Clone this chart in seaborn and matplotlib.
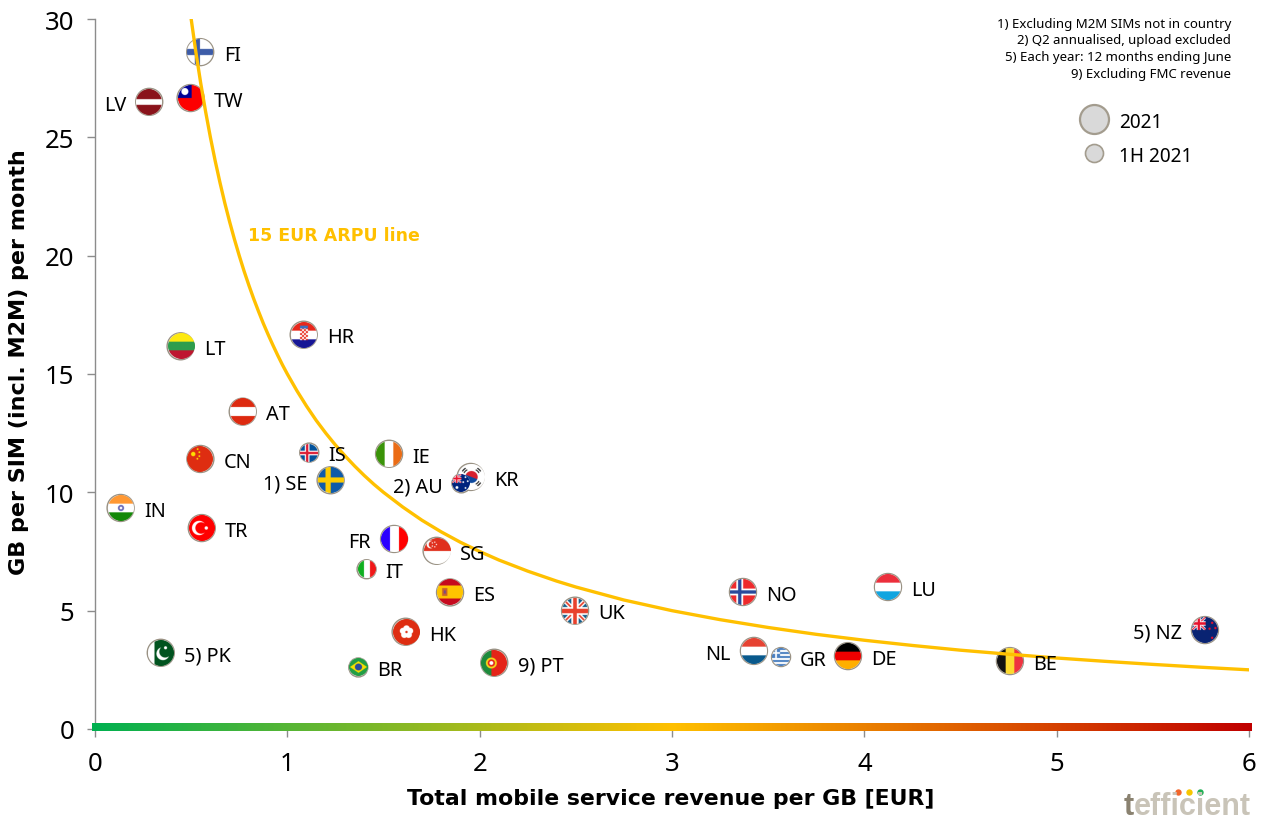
import numpy as np
import pandas as pd
import matplotlib
matplotlib.use("Agg")
import matplotlib.pyplot as plt
import seaborn as sns
from matplotlib.colors import LinearSegmentedColormap, to_rgb
from matplotlib.lines import Line2D

# ---------- data ----------
codes = ["FI","TW","LV","LT","HR","AT","CN","IS","IE","SE","KR","AU","IN","TR","FR","SG","IT","ES","UK","HK","PK","BR","PT","NO","LU","NZ","NL","GR","DE","BE"]
rev_per_gb = [0.547,0.497,0.282,0.445,1.085,0.768,0.548,1.114,1.529,1.225,1.953,1.905,0.133,0.555,1.555,1.776,1.412,1.846,2.496,1.615,0.342,1.369,2.076,3.369,4.123,5.771,3.426,3.567,3.915,4.757]
gb_per_sim = [28.6,26.66,26.5,16.17,16.66,13.41,11.41,11.68,11.63,10.51,10.65,10.38,9.34,8.49,8.03,7.53,6.75,5.77,5.0,4.11,3.22,2.6,2.8,5.79,6.0,4.18,3.3,3.04,3.08,2.87]
half_year = ["IS","IT","AU","BR","GR"]
left_labels = ["LV","SE","AU","FR","NZ","NL"]
prefixes = {"SE":"1) ","AU":"2) ","NZ":"5) ","PK":"5) ","PT":"9) "}
arpu_x = [0.5,0.525,0.55,0.575,0.6,0.625,0.65,0.675,0.7,0.725,0.75,0.775,0.8,0.825,0.85,0.875,0.9,0.925,0.95,0.975,1.0,1.05,1.1,1.15,1.2,1.25,1.3,1.35,1.4,1.45,1.5,1.6,1.7,1.8,1.9,2,2.1,2.25,2.4,2.5,2.75,3,3.25,3.5,3.75,4,4.25,4.5,4.75,5,5.25,5.5,5.75,6]
arpu_y = [30,28.57,27.27,26.09,25,24,23.08,22.22,21.43,20.69,20,19.35,18.75,18.18,17.65,17.14,16.67,16.22,15.79,15.38,15,14.29,13.64,13.04,12.5,12,11.54,11.11,10.71,10.34,10,9.38,8.82,8.33,7.89,7.5,7.14,6.67,6.25,6,5.45,5,4.62,4.29,4,3.75,3.53,3.33,3.16,3,2.86,2.73,2.61,2.5]
x_ticks = [0,1,2,3,4,5,6]
y_ticks = [0,5,10,15,20,25,30]
footnotes = ["1) Excluding M2M SIMs not in country","2) Q2 annualised, upload excluded","5) Each year: 12 months ending June","9) Excluding FMC revenue"]
legend_labels = ["2021","1H 2021"]

df = pd.DataFrame({"code":codes,"rev":rev_per_gb,"gb":gb_per_sim})
df["period"] = ["1H 2021" if c in half_year else "2021" for c in codes]

# ---------- flags ----------
def hexrgb(c): return np.array(to_rgb(c))

def union(F, x0, x1, y0, y1):
    X, Y = F.X, F.Y
    u = (X-x0)/(x1-x0)*2-1; v = (Y-y0)/(y1-y0)*2-1
    box = (u>=-1)&(u<=1)&(v>=-1)&(v<=1)
    F.fill(box,"#00247D")
    d = np.abs(np.abs(u)-np.abs(v))
    F.fill(box&(d<0.28),"#FFFFFF"); F.fill(box&(d<0.11),"#E8112D")
    F.fill(box&((np.abs(u)<0.3)|(np.abs(v)<0.34)),"#FFFFFF")
    F.fill(box&((np.abs(u)<0.17)|(np.abs(v)<0.2)),"#E8112D")

class Flag:
    def __init__(s, X, Y):
        s.X, s.Y = X, Y
        s.img = np.ones(X.shape+(3,))
    def fill(s, m, c): s.img[m] = hexrgb(c)
    def all(s, c): s.img[:] = hexrgb(c)
    def hs(s, cols, cuts=None):
        n = len(cols); cuts = cuts or list(np.linspace(1,-1,n+1))
        for i,c in enumerate(cols): s.fill((s.Y<=cuts[i])&(s.Y>=cuts[i+1]),c)
    def vs(s, cols, cuts=None):
        n = len(cols); cuts = cuts or list(np.linspace(-1,1,n+1))
        for i,c in enumerate(cols): s.fill((s.X>=cuts[i])&(s.X<=cuts[i+1]),c)
    def disc(s, x, y, r): return (s.X-x)**2+(s.Y-y)**2 < r*r
    def cross(s, cx, w, c):
        s.fill((np.abs(s.X-cx)<w)|(np.abs(s.Y)<w),c)

def paint(code, F):
    X, Y = F.X, F.Y
    if code=="FI":
        F.all("#FFFFFF"); F.fill(np.abs(Y)<0.24,"#3D5DA8"); F.fill(np.abs(X+0.2)<0.2,"#3D5DA8")
    elif code=="TW":
        F.all("#FE0000"); F.fill((X<0.05)&(Y>0.0),"#000095"); F.fill(F.disc(-0.47,0.5,0.27),"#FFFFFF")
    elif code=="LV":
        F.all("#8B141B"); F.fill(np.abs(Y)<0.22,"#FFFFFF")
    elif code=="LT":
        F.hs(["#FDE910","#2E9E4E","#BE1730"])
    elif code=="HR":
        F.hs(["#E8281C","#FFFFFF","#171796"])
        sh = (np.abs(X)<0.3)&(Y<0.5)&(Y>-0.4)
        F.fill(sh,"#FFFFFF")
        F.fill(sh&((np.floor(X/0.15)+np.floor(Y/0.15))%2==0),"#E8281C")
        F.fill((np.abs(X)<0.3)&(Y>=0.5)&(Y<0.72),"#3D6FC0")
    elif code=="AT":
        F.hs(["#DD2A10","#FFFFFF","#DD2A10"])
    elif code=="CN":
        F.all("#DE2E12")
        F.fill(F.disc(-0.52,0.38,0.17),"#FFDE00")
        for p in [(-0.18,0.76),(-0.05,0.52),(-0.05,0.22),(-0.2,0.02)]:
            F.fill(F.disc(p[0],p[1],0.07),"#FFDE00")
    elif code=="IS":
        F.all("#02529C"); F.cross(-0.2,0.26,"#FFFFFF"); F.cross(-0.2,0.13,"#DC1E35")
    elif code=="IE":
        F.vs(["#3A9408","#FFFFFF","#EB6C15"])
    elif code=="SE":
        F.all("#0E5BA8"); F.cross(-0.22,0.2,"#FECC00")
    elif code=="KR":
        F.all("#FFFFFF")
        F.fill(F.disc(0,0,0.46)&(Y+0.4*X>0),"#D8202E"); F.fill(F.disc(0,0,0.46)&(Y+0.4*X<=0),"#0F4A9E")
        d = np.abs(np.abs(X)-np.abs(Y))
        F.fill((np.hypot(X,Y)>0.6)&(np.hypot(X,Y)<0.85)&(d<0.25)&(np.abs(np.hypot(X,Y)-0.72)>0.04),"#1A1A1A")
    elif code=="AU":
        F.all("#00247D"); union(F,-1,0.05,0,1)
        F.fill(F.disc(-0.45,-0.5,0.16),"#FFFFFF")
        for p in [(0.5,0.65),(0.25,0.1),(0.75,0.2),(0.5,-0.55)]:
            F.fill(F.disc(p[0],p[1],0.1),"#FFFFFF")
    elif code=="IN":
        F.hs(["#FF9933","#FFFFFF","#138808"])
        F.fill(F.disc(0,0,0.24)&(~F.disc(0,0,0.1)),"#6A6AB8")
    elif code=="TR":
        F.all("#FF0000")
        F.fill(F.disc(-0.22,0,0.55)&(~F.disc(-0.07,0,0.44)),"#FFFFFF")
        F.fill(F.disc(0.33,0,0.13),"#FFFFFF")
    elif code=="FR":
        F.vs(["#2B00FF","#FFFFFF","#FF0000"])
    elif code=="SG":
        F.hs(["#E0301E","#FFFFFF"])
        F.fill(F.disc(-0.5,0.5,0.3)&(~F.disc(-0.38,0.5,0.27)),"#FFFFFF")
        for p in [(-0.2,0.68),(-0.08,0.5),(-0.2,0.32),(-0.38,0.38),(-0.38,0.62)]:
            F.fill(F.disc(p[0],p[1],0.05),"#FFFFFF")
    elif code=="IT":
        F.vs(["#10B020","#FFFFFF","#F01818"])
    elif code=="ES":
        F.hs(["#C60B1E","#FFC400","#C60B1E"],[1,0.5,-0.5,-1])
        F.fill((np.abs(X+0.4)<0.2)&(np.abs(Y)<0.3),"#C8632A")
        F.fill((np.abs(X+0.4)<0.08)&(np.abs(Y)<0.12),"#7A4A8A")
    elif code=="UK":
        F.all("#155F8C")
        d = np.abs(np.abs(X)-np.abs(Y))
        F.fill(d<0.24,"#FFFFFF"); F.fill(d<0.09,"#E8412D")
        F.fill((np.abs(X)<0.28)|(np.abs(Y)<0.3),"#FFFFFF")
        F.fill((np.abs(X)<0.14)|(np.abs(Y)<0.17),"#E8412D")
    elif code=="HK":
        F.all("#DE2E12")
        for a in np.deg2rad([90,18,162,234,306]):
            F.fill(F.disc(0.27*np.cos(a),0.27*np.sin(a),0.24),"#FFFFFF")
        F.fill(F.disc(0,0,0.09),"#DE2E12")
    elif code=="PK":
        F.all("#01531F"); F.fill(X<-0.5,"#FFFFFF")
        F.fill(F.disc(0.15,-0.05,0.5)&(~F.disc(0.32,0.1,0.45)),"#FFFFFF")
        F.fill(F.disc(0.35,0.4,0.12),"#FFFFFF")
    elif code=="BR":
        F.all("#229E45"); F.fill(np.abs(X)/0.9+np.abs(Y)/0.65<1,"#F8E000"); F.fill(F.disc(0,0,0.38),"#2B4C9B")
    elif code=="PT":
        F.vs(["#1E8A3C","#E42518"],[-1,-0.2,1])
        F.fill(F.disc(-0.2,0,0.42),"#F4D81A"); F.fill(F.disc(-0.2,0,0.28),"#E42518"); F.fill(F.disc(-0.2,0,0.15),"#FFFFFF")
    elif code=="NO":
        F.all("#EF2B2D"); F.cross(-0.25,0.26,"#FFFFFF"); F.cross(-0.25,0.13,"#2A4B9B")
    elif code=="LU":
        F.hs(["#EC2F3C","#FFFFFF","#12A5E0"])
    elif code=="NZ":
        F.all("#0A2472"); union(F,-1,0.05,0,1)
        for p in [(0.55,0.55),(0.35,0.1),(0.8,0.15),(0.55,-0.6)]:
            F.fill(F.disc(p[0],p[1],0.09),"#E8112D")
    elif code=="NL":
        F.hs(["#E64332","#FFFFFF","#0A5A8C"])
    elif code=="GR":
        F.all("#FFFFFF")
        F.fill(np.floor((Y+1)/(2/9))%2==0,"#4A7FC0")
        box = (X<-0.1)&(Y>-0.1)
        F.fill(box,"#4A7FC0"); F.fill(box&((np.abs(X+0.55)<0.1)|(np.abs(Y-0.45)<0.1)),"#FFFFFF")
    elif code=="DE":
        F.hs(["#000000","#EE0000","#FFB000"])
    elif code=="BE":
        F.vs(["#111111","#FDDA30","#EF3340"])

def flag_image(code, d):
    ss = 4
    m = d*3
    n = m*ss
    c = (np.arange(n)+0.5)/n*2-1
    X, Y = np.meshgrid(c, -c)
    F = Flag(X, Y)
    paint(code, F)
    a = (X**2+Y**2 <= 1).astype(float)
    rgba = np.dstack([F.img*a[...,None], a])
    rgba = rgba.reshape(m,ss,m,ss,4).mean(axis=(1,3))
    al = rgba[...,3:]
    rgb = np.where(al>0, rgba[...,:3]/np.maximum(al,1e-6), 1.0)
    return np.dstack([rgb, al[...,0]])

# ---------- figure ----------
sns.set_theme(style="white")
FONT = ["Noto Sans","DejaVu Sans"]
plt.rcParams["font.family"] = FONT
W, H = 1261, 820
fig = plt.figure(figsize=(W/100, H/100), dpi=100)
ax = fig.add_axes([95/W, 1-730/H, (1249-95)/W, 710/H])
BLACK = "#000000"; EDGE = "#9A9284"; GREY = "#8C8C8C"
px_x = 6/(1249-95); px_y = 30/710

sns.scatterplot(data=df, x="rev", y="gb", size="period", sizes={"2021":(27*0.72)**2,"1H 2021":(19*0.72)**2},
                color="#D9D9D9", edgecolor=EDGE, linewidth=1.0, legend=False, ax=ax, zorder=3, clip_on=False)

for _, row in df.iterrows():
    small = row["period"]=="1H 2021"
    d = 18 if small else 26
    ax.imshow(flag_image(row["code"], d), aspect="auto", zorder=3.5,
              extent=[row["rev"]-d/2*px_x, row["rev"]+d/2*px_x, row["gb"]-d/2*px_y, row["gb"]+d/2*px_y])
    left = row["code"] in left_labels
    if left:
        dx = -(19 if small else 23)*0.72
    else:
        dx = (18.5 if small else 23.5)*0.72
    ax.annotate(prefixes.get(row["code"],"")+row["code"], (row["rev"],row["gb"]),
                xytext=(dx, -0.2), textcoords="offset points",
                ha="right" if left else "left", va="center_baseline", fontsize=14.3, color=BLACK, zorder=6)

sns.lineplot(x=arpu_x, y=arpu_y, color="#FFC000", linewidth=2.4, ax=ax, zorder=4, estimator=None, sort=False)
ax.text(0.795, 20.88, "15 EUR ARPU line", color="#FFC000", fontsize=12.5, fontweight="bold", va="center", ha="left", family="DejaVu Sans")

# gradient strip along the x axis
cmap = LinearSegmentedColormap.from_list("g", ["#00B050","#FFC000","#C00000"])
grad = np.linspace(0,1,512).reshape(1,-1)
ax.imshow(grad, cmap=cmap, aspect="auto", extent=[-0.016,6.012,-0.085,0.25], clip_on=False, zorder=5)

ax.set_xlim(0,6); ax.set_ylim(0,30)
ax.set_xticks(x_ticks); ax.set_yticks(y_ticks)
ax.tick_params(axis="both", which="major", labelsize=18.5, labelcolor=BLACK, length=5.76, width=1, color=GREY, bottom=True, left=True, pad=10.3)
ax.tick_params(axis="y", pad=9)
for s in ["top","right"]:
    ax.spines[s].set_visible(False)
ax.spines["left"].set_color(GREY); ax.spines["bottom"].set_color(GREY)
ax.spines["left"].set_linewidth(1)
ax.set_xlabel("")
ax.set_ylabel("")
fig.text(671/W, 1-799/H, "Total mobile service revenue per GB [EUR]", ha="center", va="center", fontsize=15.85, fontweight="bold", color=BLACK, family="DejaVu Sans")
fig.text(19/W, 1-362/H, "GB per SIM (incl. M2M) per month", rotation=90, ha="center", va="center", fontsize=16, fontweight="bold", color=BLACK, family="DejaVu Sans")

# footnotes
for txt, py in zip(footnotes, [24.5,40.5,57.5,74.5]):
    fig.text(1231/W, 1-py/H, txt, ha="right", va="center", fontsize=9.5, color=BLACK)

# legend
for lab, py, pxc, d, lw in zip(legend_labels, [120,154], [1094,1094], [29,18], [1.6,1.2]):
    fig.add_artist(Line2D([pxc/W],[1-py/H], marker="o", ms=d*0.72, mfc="#D9D9D9", mec="#A39C8E", mew=lw, ls="none", transform=fig.transFigure))
    fig.text(1119/W, 1-(py+3)/H, lab, ha="left", va="center", fontsize=13.7, color=BLACK)

# logo
fig.text(1124/W, 1-815/H, "t", fontsize=22, fontweight="bold", color="#8A8270", ha="left", va="baseline", family="Liberation Sans")
fig.text(1133.5/W, 1-815/H, "efficient", fontsize=22, fontweight="bold", color="#C9C4B8", ha="left", va="baseline", family="Liberation Sans")
for px, c in zip([1178,1189,1200], ["#F2662B","#F7C600","#1FAF54"]):
    fig.add_artist(Line2D([px/W],[1-793/H], marker="o", ms=4.6, mfc=c, mec=c, mew=0, ls="none", transform=fig.transFigure))

fig.savefig("out.png", dpi=100, facecolor="white")
